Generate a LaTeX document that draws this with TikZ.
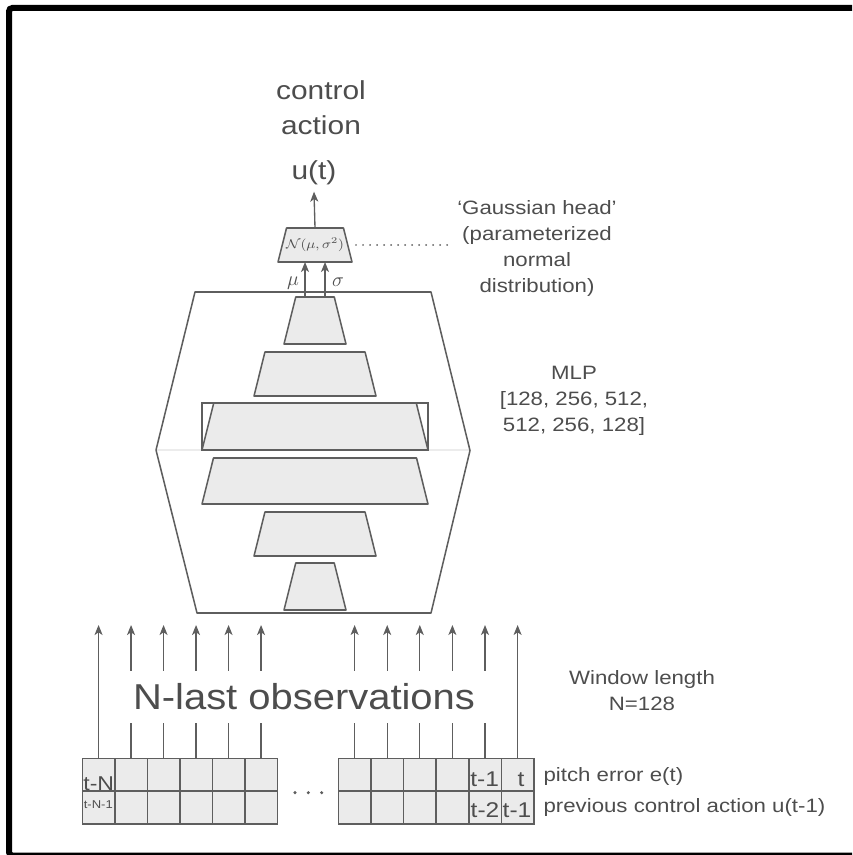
\documentclass[tikz,border=0pt]{standalone}
\usepackage{fix-cm}
\usepackage{fontspec}
\setmainfont{Liberation Sans}[FakeStretch=1.15]
\usepackage{graphicx}
\usetikzlibrary{arrows.meta}
\definecolor{linec}{HTML}{5E5E5E}
\definecolor{cellfill}{HTML}{EBEBEB}
\definecolor{txtc}{HTML}{4D4D4D}
\newcommand\drawtrap[2]{\draw[layer] (#1.south west) -- (#1.south east) -- ([xshift=-#2]#1.north east) -- ([xshift=#2]#1.north west) -- cycle;}
\begin{document}
\begin{tikzpicture}[x=0.75pt,y=-0.75pt,
  box/.style 2 args={rectangle, draw=none, inner sep=0pt, outer sep=0pt, minimum width={#1*0.75pt}, minimum height={#2*0.75pt}},
  layer/.style={draw=linec, fill=cellfill, line width=1.15pt, line join=round},
  cell/.style={rectangle, draw=linec, fill=cellfill, line width=1.15pt, minimum width=24.4pt, minimum height=24.4pt, inner sep=0pt, outer sep=0pt},
  arr/.style={draw=linec, line width=1pt, -{Stealth[length=7.5pt,width=6pt,inset=2pt]}},
  txt/.style={text=txtc, inner sep=0pt, font=\fontsize{14.5}{19.5}\selectfont, align=center},
  clab/.style={text=txtc, inner sep=0pt, anchor=base, font=\fontsize{16}{18}\selectfont},
  big/.style={text=txtc, inner sep=0pt, anchor=base, font=\fontsize{19.5}{22}\selectfont},
]
\useasboundingbox (0,0) rectangle (852,855);
\begin{scope}
  \clip (0,0) rectangle (852,855);
  \draw[black, line width=4.5pt, rounded corners=2.5pt] (9,8) rectangle (875,855.5);
\end{scope}

% MLP hexagon
\draw[gray!15, line width=0.8pt] (156,450) -- (470,450);
\draw[linec, line width=1.15pt, line join=round] (195,292) -- (431,292) -- (470,450.5) -- (431,613) -- (197,613) -- (156,450) -- cycle;

\node[box={62}{47}] (L1) at (315,320.5) {};
\drawtrap{L1}{8.8pt}
\node[box={122}{44}] (L2) at (315,374) {};
\drawtrap{L2}{8.2pt}
\node[box={226}{47}] (L3) at (315,426.5) {};
\draw[linec, line width=0.9pt] (L3.south west) rectangle (L3.north east);
\drawtrap{L3}{8.8pt}
\node[box={226}{46}] (L4) at (315,481) {};
\drawtrap{L4}{8.6pt}
\node[box={122}{44}] (L5) at (315,534) {};
\drawtrap{L5}{8.2pt}
\node[box={62}{47}] (L6) at (315,586.5) {};
\drawtrap{L6}{8.8pt}

% Gaussian head
\node[box={74}{34}] (GH) at (315,245) {};
\drawtrap{GH}{6.4pt}
\node[text=txtc, inner sep=0pt] (GHt) at (GH.center) {\scalebox{1.15}[1]{\fontsize{9.5}{11}\selectfont$\mathcal{N}(\mu,\sigma^2)$}};
\draw[arr] ([xshift=-7.5pt]L1.north) -- ([xshift=-7.5pt]GH.south);
\draw[arr] ([xshift=7.5pt]L1.north) -- ([xshift=7.5pt]GH.south);
\node[text=txtc, inner sep=0pt] (mu) at (293,283) {\fontsize{15}{15}\selectfont$\mu$};
\node[text=txtc, inner sep=0pt] (sig) at (338,282.5) {\fontsize{15}{15}\selectfont$\sigma$};
\coordinate (dotend) at (453,245);
\draw[linec, line width=1.4pt, line cap=round, dash pattern=on 0.01pt off 5.25pt, shorten <=3pt] (GH.east) -- (dotend);

% output
\node[big, inner ysep=4.5pt] (ut) at (314,180) {u(t)};
\draw[arr] (GH.north) -- (ut.south);
\node[big] (act) at (321,135) {action};
\node[big] (ctl) at (321,100) {control};

% side texts
\node[txt] (ghtxt) at (537,248) {‘Gaussian head’\\(parameterized\\normal\\distribution)};
\node[txt] (mlp) at (574,401) {MLP\\{}[128, 256, 512,\\512, 256, 128]};
\node[txt] (win) at (642,690.6) {Window length\\N=128};

% observation grids
\foreach \i in {1,...,6}{
  \pgfmathsetmacro\xa{82.3+32.5*(\i-0.5)}
  \pgfmathsetmacro\xb{338.3+32.6*(\i-0.5)}
  \node[cell] (a\i) at (\xa,774.85) {};
  \node[cell] (b\i) at (\xa,807.6) {};
  \node[cell] (c\i) at (\xb,774.85) {};
  \node[cell] (d\i) at (\xb,807.6) {};
  \coordinate (ta\i) at (\xa,625);
  \coordinate (tc\i) at (\xb,625);
  \draw[arr] (a\i.north) -- (ta\i);
  \draw[arr] (c\i.north) -- (tc\i);
}
\node[text=txtc, fill=white, inner xsep=9pt, inner ysep=9.75pt, font=\fontsize{27}{30}\selectfont] (obs) at (304,697) {\scalebox{0.965}[1]{N-last observations}};

\foreach \x in {295,308.3,321.7} \fill[linec] (\x,792.7) circle (1.3pt);

\node[clab, font=\fontsize{15}{18}\selectfont] (lN) at (98.7,790) {t-N};
\node[clab, font=\fontsize{8.5}{10}\selectfont] (lN1) at (98.3,808.3) {t-N-1};
\node[clab] (l1) at (484.7,786.7) {t-1};
\node[clab] (l0) at (521,786.7) {t};
\node[clab] (l2) at (485,817.3) {t-2};
\node[clab] (l1b) at (517,817.3) {t-1};
\node[txt, anchor=base west] (pe) at (543.3,781.7) {pitch error e(t)};
\node[txt, anchor=base west] (pca) at (543.3,812.7) {previous control action u(t-1)};
\end{tikzpicture}
\end{document}
